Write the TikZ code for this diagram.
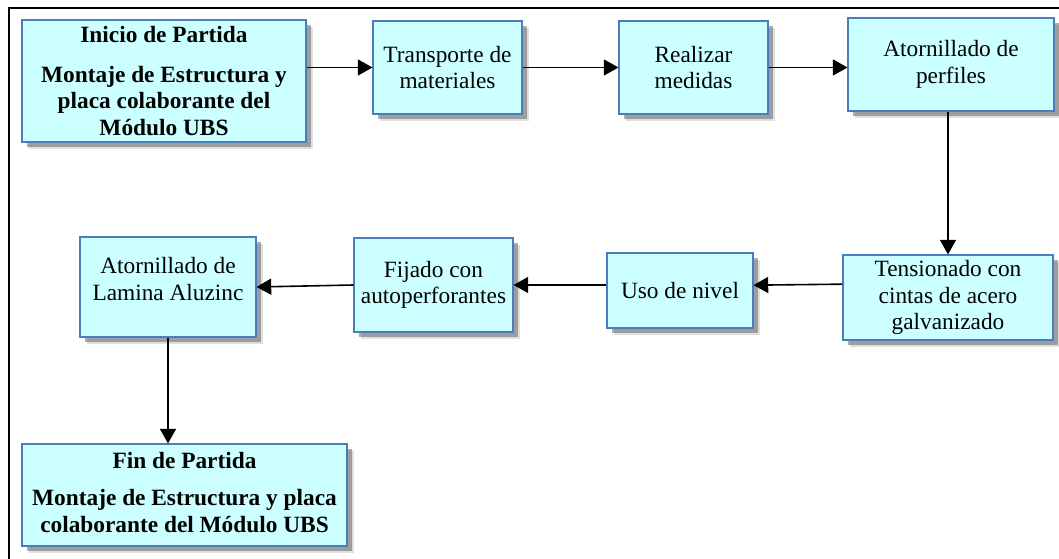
\documentclass[tikz,border=0pt]{standalone}
\usepackage{fontspec}
\setmainfont{Liberation Serif}
\usetikzlibrary{arrows.meta,shadows}
\definecolor{boxfill}{HTML}{CCFFFF}
\definecolor{boxline}{HTML}{4A7EBB}
\begin{document}
\begin{tikzpicture}[x=0.75pt, y=-0.75pt,
  box/.style={draw=boxline, line width=0.8pt, fill=boxfill, align=center, inner sep=2pt,
    font=\fontsize{17.5}{20}\selectfont,
    drop shadow={shadow xshift=5.5pt, shadow yshift=-5.5pt, fill=black!50, opacity=0.25},
    drop shadow={shadow xshift=3.5pt, shadow yshift=-3.5pt, fill=black!70, opacity=0.45}},
  title/.style={font=\fontsize{17.5}{20}\selectfont\bfseries},
  arr/.style={-{Triangle[length=11pt,width=12pt]}, line width=1.2pt}]
  \useasboundingbox (0,0) rectangle (1059,559);
  \draw[line width=2.2pt] (9,559) -- (9,8) -- (1059,8);
  % upper row
  \node[box, title, minimum width=213pt, minimum height=91.5pt] (inicio) at (164,81)
    {Inicio de Partida\\[10pt]Montaje de Estructura y\\placa colaborante del\\Módulo UBS};
  \node[box, minimum width=111.75pt, minimum height=69.75pt] (transp) at (447.5,67.5)
    {Transporte de\\materiales};
  \node[box, minimum width=111.75pt, minimum height=69.75pt] (medidas) at (693.5,67.5)
    {Realizar\\medidas};
  \node[box, minimum width=154.5pt, minimum height=69.75pt] (perfiles) at (951,64.5)
    {Atornillado de\\perfiles};
  % lower row
  \node[box, minimum width=157.5pt, minimum height=63.75pt] (tension) at (948,297.5)
    {Tensionado con\\cintas de acero\\galvanizado};
  \node[box, minimum width=109.5pt, minimum height=56.25pt] (nivel) at (680,290.5)
    {Uso de nivel};
  \node[box, minimum width=119.25pt, minimum height=70.5pt] (fijado) at (433.5,285)
    {Fijado con\\autoperforantes};
  \node[box, minimum width=132pt, minimum height=75pt] (lamina) at (168,287)
    {Atornillado de\\Lamina Aluzinc\\[-8pt]};
  \node[box, title, minimum width=243.75pt, minimum height=76.5pt] (fin) at (184.5,495)
    {Fin de Partida\\[8pt]Montaje de Estructura y placa\\colaborante del Módulo UBS\\[-16pt]};
  % connectors
  \draw[arr] (transp.west -| inicio.east) -- (transp.west);
  \draw[arr] (transp.east) -- (medidas.west);
  \draw[arr] (medidas.east) -- (medidas.east -| perfiles.west);
  \draw[arr] (perfiles.south -| tension.north) -- (tension.north);
  \draw[arr] ([yshift=10pt]tension.west) -- ([yshift=4pt]nivel.east);
  \draw[arr] (nivel.west |- fijado.east) -- (fijado.east);
  \draw[arr] (fijado.west) -- (lamina.east);
  \draw[arr] (lamina.south) -- (lamina.south |- fin.north);
\end{tikzpicture}
\end{document}
